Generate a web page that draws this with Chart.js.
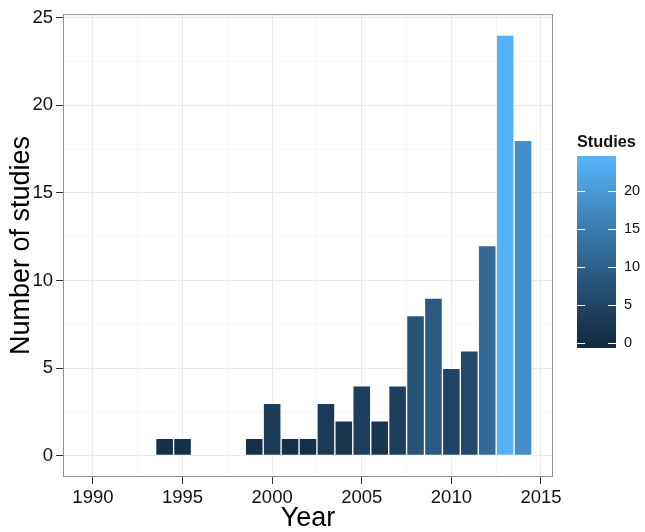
<!DOCTYPE html>
<html lang="en">
<head>
<meta charset="UTF-8">
<title>Number of studies by year</title>
<style>body{margin:0;background:#fff}</style>
</head>
<body>
<div style="width:645px;height:532px;">
  <canvas id="myChart" width="645" height="532"></canvas>
</div>
<script src="https://cdn.jsdelivr.net/npm/chart.js"></script>
<script>
// data
const years   = [1994, 1995, 1999, 2000, 2001, 2002, 2003, 2004, 2005, 2006, 2007, 2008, 2009, 2010, 2011, 2012, 2013, 2014];
const studies = [1,    1,    1,    3,    1,    1,    3,    2,    4,    2,    4,    8,    9,    5,    6,    12,   24,   18];
const xTicks = [1990, 1995, 2000, 2005, 2010, 2015];
const yTicks = [0, 5, 10, 15, 20, 25];
const legendTicks = [0, 5, 10, 15, 20];

const FONT = "'Liberation Sans', Arial, Helvetica, sans-serif";
const lowCol = '#132B43', highCol = '#56B1F7';

// colour ramp in Lab (like ggplot's default gradient)
function hexToRgb(h) { return [1, 3, 5].map(i => parseInt(h.slice(i, i + 2), 16)); }
function toLin(c) { c /= 255; return c <= 0.04045 ? c / 12.92 : Math.pow((c + 0.055) / 1.055, 2.4); }
function fromLin(c) {
    c = c <= 0.0031308 ? 12.92 * c : 1.055 * Math.pow(c, 1 / 2.4) - 0.055;
    return Math.round(Math.max(0, Math.min(1, c)) * 255);
}
function rgbToLab(rgb) {
    const [r, g, b] = rgb.map(toLin);
    const x = (0.4124 * r + 0.3576 * g + 0.1805 * b) / 0.95047;
    const y = 0.2126 * r + 0.7152 * g + 0.0722 * b;
    const z = (0.0193 * r + 0.1192 * g + 0.9505 * b) / 1.08883;
    const f = t => t > 0.008856 ? Math.cbrt(t) : 7.787 * t + 16 / 116;
    return [116 * f(y) - 16, 500 * (f(x) - f(y)), 200 * (f(y) - f(z))];
}
function labToRgb(lab) {
    const fy = (lab[0] + 16) / 116, fx = fy + lab[1] / 500, fz = fy - lab[2] / 200;
    const inv = t => t * t * t > 0.008856 ? t * t * t : (t - 16 / 116) / 7.787;
    const x = inv(fx) * 0.95047, y = inv(fy), z = inv(fz) * 1.08883;
    const r = 3.2406 * x - 1.5372 * y - 0.4986 * z;
    const g = -0.9689 * x + 1.8758 * y + 0.0415 * z;
    const b = 0.0557 * x - 0.2040 * y + 1.0570 * z;
    return [fromLin(r), fromLin(g), fromLin(b)];
}
const labLow = rgbToLab(hexToRgb(lowCol)), labHigh = rgbToLab(hexToRgb(highCol));
function ramp(t) {
    t = Math.max(0, Math.min(1, t));
    const c = labToRgb(labLow.map((v, i) => v + (labHigh[i] - v) * t));
    return 'rgb(' + c.join(',') + ')';
}
const maxCount = Math.max(...studies);
const barColours = studies.map(v => ramp(v / maxCount));

function midpoints(arr) {
    const out = [];
    for (let i = 0; i < arr.length - 1; i++) out.push((arr[i] + arr[i + 1]) / 2);
    return out;
}
function withMinor(major) {
    return major.concat(midpoints(major)).sort((a, b) => a - b).map(v => ({ value: v }));
}

const axisStyle = (majors) => ({
    grid: {
        color: c => majors.includes(c.tick.value) ? '#ebebeb' : '#f6f6f6',
        tickColor: c => majors.includes(c.tick.value) ? '#333' : 'rgba(0,0,0,0)',
        tickLength: 7,
        lineWidth: 1,
        offset: false
    },
    border: { display: false },
    ticks: {
        autoSkip: false,
        maxRotation: 0,
        color: '#111',
        font: { family: FONT, size: 18.5 },
        callback: v => majors.includes(v) ? String(v) : ''
    },
    afterBuildTicks: s => { s.ticks = withMinor(majors); }
});

// panel border + colour bar legend
const extras = {
    id: 'extras',
    afterDraw(chart) {
        const { ctx, chartArea: a } = chart;
        ctx.save();
        ctx.strokeStyle = '#8f8f8f';
        ctx.lineWidth = 1;
        ctx.strokeRect(a.left + 0.5, a.top + 0.5, a.right - a.left - 1, a.bottom - a.top - 1);

        // colour bar
        const nbin = 20;
        const half = maxCount / (nbin - 1) / 2;
        const barX = 577, barW = 39, top = 156, bottom = 348;
        const vy = v => bottom - (v + half) / (maxCount + 2 * half) * (bottom - top);
        const grad = ctx.createLinearGradient(0, bottom, 0, top);
        for (let i = 0; i < nbin; i++) grad.addColorStop((i + 0.5) / nbin, ramp(i / (nbin - 1)));
        ctx.fillStyle = grad;
        ctx.fillRect(barX, top, barW, bottom - top);

        ctx.strokeStyle = '#fff';
        ctx.fillStyle = '#111';
        ctx.font = '14.5px ' + FONT;
        ctx.textBaseline = 'middle';
        ctx.textAlign = 'left';
        legendTicks.forEach(v => {
            const y = Math.round(vy(v)) + 0.5;
            ctx.beginPath();
            ctx.moveTo(barX, y); ctx.lineTo(barX + 8, y);
            ctx.moveTo(barX + barW - 8, y); ctx.lineTo(barX + barW, y);
            ctx.stroke();
            ctx.fillText(String(v), 624, vy(v));
        });
        ctx.font = 'bold 16.3px ' + FONT;
        ctx.textBaseline = 'alphabetic';
        ctx.fillText('Studies', 577, 146.5);
        ctx.restore();
    }
};

const ctx = document.getElementById('myChart');
const xAxis = axisStyle(xTicks);
const yAxis = axisStyle(yTicks);

new Chart(ctx, {
    type: 'bar',
    data: {
        datasets: [{
            data: years.map((y, i) => ({ x: y, y: studies[i] })),
            backgroundColor: barColours,
            borderColor: '#ffffff',
            borderWidth: 1,
            borderSkipped: false,
            barPercentage: 1,
            categoryPercentage: 1
        }]
    },
    options: {
        responsive: false,
        animation: false,
        events: [],
        layout: { padding: { top: 5, right: 92, left: 0, bottom: 0 } },
        plugins: { legend: { display: false }, tooltip: { enabled: false } },
        scales: {
            x: Object.assign(xAxis, {
                type: 'linear',
                offset: false,
                min: 1988.33,
                max: 2015.67,
                title: { display: true, text: 'Year', color: '#000', font: { family: FONT, size: 27, lineHeight: 1 }, padding: 0 },
                afterFit: s => { s.height = 55; }
            }),
            y: Object.assign(yAxis, {
                type: 'linear',
                min: -1.2,
                max: 25.2,
                title: { display: true, text: 'Number of studies', color: '#000', font: { family: FONT, size: 27, lineHeight: 1 }, padding: { top: 8.5, bottom: 0 } },
                afterFit: s => { s.width = 63; }
            })
        }
    },
    plugins: [extras]
});
</script>
</body>
</html>
